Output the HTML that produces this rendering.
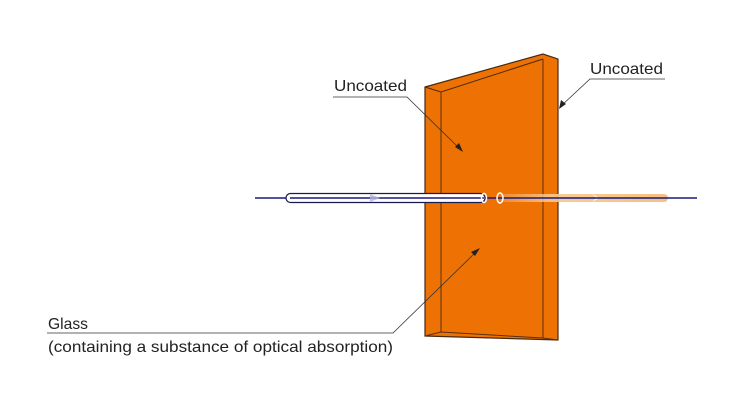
<!DOCTYPE html>
<html><head><style>
html,body{margin:0;padding:0;background:#fff;width:750px;height:400px;overflow:hidden}
text{font-family:"Liberation Sans",Arial,sans-serif;fill:#222}
</style></head><body>
<svg width="750" height="400" viewBox="0 0 750 400" xmlns="http://www.w3.org/2000/svg">
<defs>
<linearGradient id="og" x1="0" x2="1" y1="0" y2="0">
<stop offset="0" stop-color="#f6c48a" stop-opacity="0.3"/>
<stop offset="0.3" stop-color="#f8c88e" stop-opacity="0.9"/>
<stop offset="1" stop-color="#f6c080"/>
</linearGradient>
</defs>
<polygon points="425,87 543,54 558,59 558,340 425,336" fill="#ee7203" stroke="#4a2a10" stroke-width="1.2"/>
<polyline points="425,87 441,92 543,59" fill="none" stroke="#4a2a10" stroke-width="1"/>
<line x1="441" y1="92" x2="441" y2="332" stroke="#5a3010" stroke-width="1"/>
<line x1="543" y1="59" x2="543" y2="338" stroke="#5a3010" stroke-width="1"/>
<polyline points="425,336 441,332 543,338 558,340" fill="none" stroke="#5a3010" stroke-width="1"/>
<rect x="500" y="194" width="168" height="8" rx="4" fill="url(#og)"/>
<polygon points="592,194 600,198 592,202 596,198" fill="#fff" opacity="0.8"/>
<line x1="255" y1="198" x2="697" y2="198" stroke="#1a1a7a" stroke-width="1.5"/>
<rect x="286" y="193.5" width="199" height="9" rx="4.5" fill="#fff" stroke="#1a1a50" stroke-width="1.2"/>
<line x1="290" y1="198" x2="484" y2="198" stroke="#1a1a7a" stroke-width="1.5"/>
<polygon points="370,194 380,198 370,202" fill="#b0b4e0" opacity="0.8"/>
<ellipse cx="484" cy="198" rx="2.5" ry="4.5" fill="none" stroke="#fff" stroke-width="1.5"/>
<ellipse cx="500" cy="198" rx="3" ry="5" fill="none" stroke="#fff" stroke-width="1.5"/>
<g stroke="#333" stroke-width="0.8" fill="none">
<polyline points="333,97 407,97 460,149"/>
<polyline points="665,79 590,79 561,106"/>
<polyline points="47,333 393,333 477,251"/>
</g>
<g fill="#222">
<polygon points="463,152 455,147 459,143"/>
<polygon points="559,109 561,100 566,104"/>
<polygon points="480,248 471,252 475,256"/>
</g>
<text x="334" y="91" font-size="16" textLength="73" lengthAdjust="spacingAndGlyphs">Uncoated</text>
<text x="590" y="74" font-size="16" textLength="73" lengthAdjust="spacingAndGlyphs">Uncoated</text>
<text x="48" y="329" font-size="16" textLength="40" lengthAdjust="spacingAndGlyphs">Glass</text>
<text x="48" y="352" font-size="16" textLength="345" lengthAdjust="spacingAndGlyphs">(containing a substance of optical absorption)</text>
</svg>
</body></html>
